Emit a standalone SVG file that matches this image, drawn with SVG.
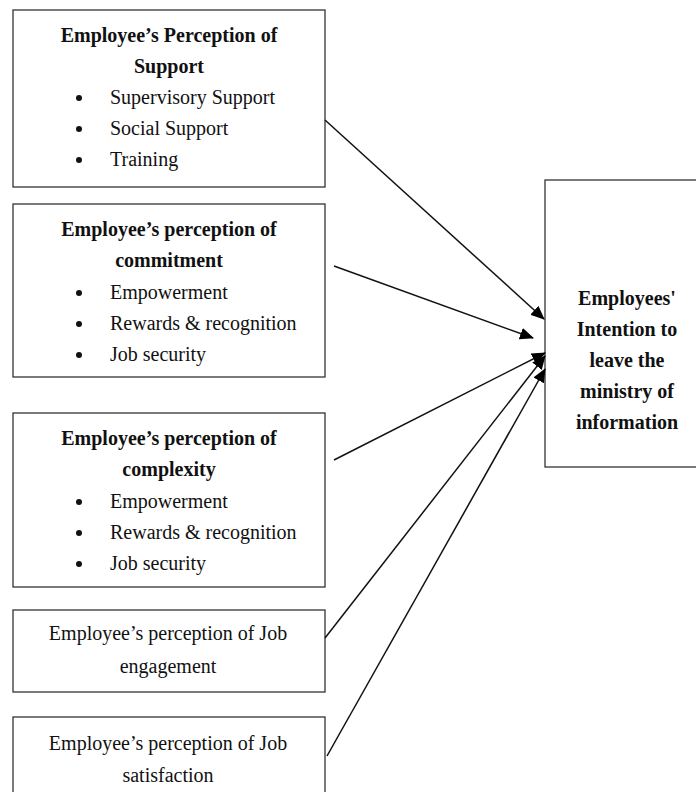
<svg xmlns="http://www.w3.org/2000/svg" width="696" height="792" viewBox="0 0 696 792">
<defs>
<style>
.box{fill:#fff;stroke:#333;stroke-width:1.3}
.t{font-family:'Liberation Serif','Times New Roman','DejaVu Serif',serif;font-size:20px;fill:#111}
.b{font-weight:bold}
.c{text-anchor:middle}
.conn{stroke:#111;stroke-width:1.5;fill:none;marker-end:url(#ah)}
</style>
<marker id="ah" markerUnits="userSpaceOnUse" markerWidth="14" markerHeight="12" refX="13" refY="6" orient="auto">
<path d="M0,0 L14,6 L0,12 Z" fill="#000"/>
</marker>
</defs>
<rect width="696" height="792" fill="#fff"/>
<g id="n1">
<rect class="box" x="13" y="10" width="312" height="177"/>
<text class="t b c" x="169" y="42">Employee’s Perception of</text>
<text class="t b c" x="169" y="73">Support</text>
<circle cx="79" cy="98" r="3" fill="#111"/><text class="t" x="110" y="104">Supervisory Support</text>
<circle cx="79" cy="129" r="3" fill="#111"/><text class="t" x="110" y="135">Social Support</text>
<circle cx="79" cy="160" r="3" fill="#111"/><text class="t" x="110" y="166">Training</text>
</g>
<g id="n2">
<rect class="box" x="13" y="204" width="312" height="173"/>
<text class="t b c" x="169" y="236">Employee’s perception of</text>
<text class="t b c" x="169" y="267">commitment</text>
<circle cx="79" cy="293" r="3" fill="#111"/><text class="t" x="110" y="299">Empowerment</text>
<circle cx="79" cy="324" r="3" fill="#111"/><text class="t" x="110" y="330">Rewards &amp; recognition</text>
<circle cx="79" cy="355" r="3" fill="#111"/><text class="t" x="110" y="361">Job security</text>
</g>
<g id="n3">
<rect class="box" x="13" y="413" width="312" height="174"/>
<text class="t b c" x="169" y="445">Employee’s perception of</text>
<text class="t b c" x="169" y="476">complexity</text>
<circle cx="79" cy="502" r="3" fill="#111"/><text class="t" x="110" y="508">Empowerment</text>
<circle cx="79" cy="533" r="3" fill="#111"/><text class="t" x="110" y="539">Rewards &amp; recognition</text>
<circle cx="79" cy="564" r="3" fill="#111"/><text class="t" x="110" y="570">Job security</text>
</g>
<g id="n4">
<rect class="box" x="13" y="610" width="312" height="82"/>
<text class="t c" x="168" y="640">Employee’s perception of Job</text>
<text class="t c" x="168" y="673">engagement</text>
</g>
<g id="n5">
<rect class="box" x="13" y="717" width="312" height="90"/>
<text class="t c" x="168" y="750">Employee’s perception of Job</text>
<text class="t c" x="168" y="782">satisfaction</text>
</g>
<g id="n6">
<rect class="box" x="545" y="180" width="160" height="287"/>
<text class="t b c" x="627" y="305">Employees'</text>
<text class="t b c" x="627" y="336">Intention to</text>
<text class="t b c" x="627" y="367">leave the</text>
<text class="t b c" x="627" y="398">ministry of</text>
<text class="t b c" x="627" y="429">information</text>
</g>
<g id="connectors">
<line class="conn" x1="325" y1="120" x2="544" y2="319"/>
<line class="conn" x1="334" y1="266" x2="533" y2="338"/>
<line class="conn" x1="334" y1="460" x2="545" y2="353"/>
<line class="conn" x1="325" y1="638" x2="545" y2="356"/>
<line class="conn" x1="327" y1="756" x2="545" y2="369"/>
</g>
</svg>
